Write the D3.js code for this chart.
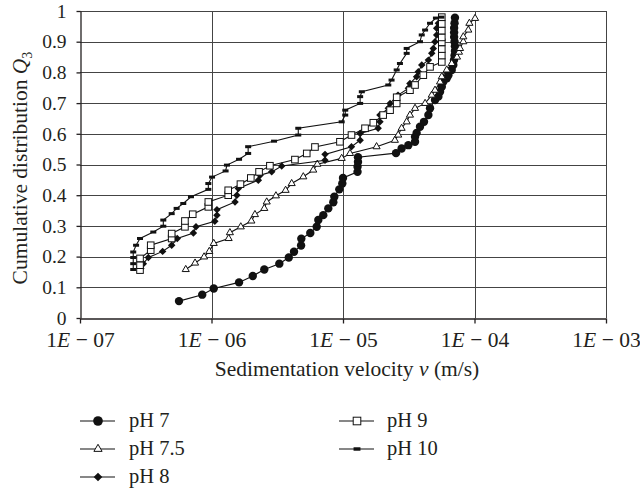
<!DOCTYPE html>
<html>
<head>
<meta charset="utf-8">
<script src="https://cdn.jsdelivr.net/npm/d3@7"></script>
<style>
    body { margin: 0; background: #fff; }
    text { font-family: "Liberation Serif", "DejaVu Serif", serif; fill: #231f20; }
</style>
</head>
<body>
<svg width="640" height="488"></svg>
<script>
// tick values
var xTicks = [1e-7, 1e-6, 1e-5, 1e-4, 1e-3];
var yTicks = [0, 0.1, 0.2, 0.3, 0.4, 0.5, 0.6, 0.7, 0.8, 0.9, 1];

// series: [velocity (m/s), Q3]
var ph7 = [[5.66e-7, 0.055], [8.5e-7, 0.076], [1.04e-6, 0.096], [1.62e-6, 0.116], [2.06e-6, 0.137],
    [2.52e-6, 0.158], [3.28e-6, 0.177], [3.87e-6, 0.197], [4.24e-6, 0.216], [4.8e-6, 0.236],
    [4.82e-6, 0.258], [5.64e-6, 0.277], [6.31e-6, 0.297], [6.49e-6, 0.319], [7.08e-6, 0.335],
    [7.73e-6, 0.357], [8.44e-6, 0.377], [8.59e-6, 0.395], [9.37e-6, 0.419], [9.88e-6, 0.438],
    [1.0e-5, 0.456], [1.29e-5, 0.476], [1.29e-5, 0.493], [1.3e-5, 0.508], [1.3e-5, 0.524],
    [2.53e-5, 0.537], [2.79e-5, 0.552], [3.14e-5, 0.563], [3.53e-5, 0.574], [3.53e-5, 0.59],
    [3.63e-5, 0.603], [3.85e-5, 0.623], [4.13e-5, 0.639], [4.46e-5, 0.661], [4.59e-5, 0.683],
    [5.01e-5, 0.71], [5.31e-5, 0.721], [5.47e-5, 0.737], [5.64e-5, 0.753], [5.8e-5, 0.77],
    [6.15e-5, 0.781], [6.33e-5, 0.791], [6.71e-5, 0.808], [6.9e-5, 0.824], [6.98e-5, 0.84],
    [7.05e-5, 0.855], [7.1e-5, 0.87], [7.1e-5, 0.885], [7.05e-5, 0.9], [7.0e-5, 0.915],
    [7.0e-5, 0.93], [7.0e-5, 0.945], [7.05e-5, 0.96], [7.1e-5, 0.978]];

var ph75 = [[6.37e-7, 0.158], [7.5e-7, 0.179], [8.78e-7, 0.199], [9.62e-7, 0.217], [1.04e-6, 0.243],
    [1.35e-6, 0.259], [1.38e-6, 0.278], [1.67e-6, 0.297], [2.01e-6, 0.316], [2.14e-6, 0.337],
    [2.52e-6, 0.357], [2.63e-6, 0.378], [3.09e-6, 0.398], [3.66e-6, 0.416], [4.07e-6, 0.438],
    [4.99e-6, 0.46], [5.94e-6, 0.482], [6.38e-6, 0.501], [9.77e-6, 0.52], [1.13e-5, 0.536],
    [1.8e-5, 0.558], [2.48e-5, 0.579], [2.63e-5, 0.596], [2.79e-5, 0.618], [3.05e-5, 0.639],
    [3.23e-5, 0.661], [3.53e-5, 0.683], [4.21e-5, 0.699], [4.73e-5, 0.726], [5.01e-5, 0.742],
    [5.47e-5, 0.769], [5.64e-5, 0.786], [6.15e-5, 0.808], [6.71e-5, 0.829], [7.36e-5, 0.85],
    [7.62e-5, 0.866], [7.76e-5, 0.878], [8.22e-5, 0.9], [8.22e-5, 0.916], [8.97e-5, 0.938],
    [9.14e-5, 0.96], [1.01e-4, 0.976]];

var ph8 = [[2.9e-7, 0.161], [3.03e-7, 0.177], [3.31e-7, 0.197], [4.25e-7, 0.217], [4.98e-7, 0.237],
    [5.49e-7, 0.259], [7.28e-7, 0.277], [7.62e-7, 0.297], [1.06e-6, 0.315], [1.1e-6, 0.335],
    [1.1e-6, 0.353], [1.51e-6, 0.378], [1.56e-6, 0.4], [1.6e-6, 0.422], [2.27e-6, 0.449],
    [2.34e-6, 0.465], [2.87e-6, 0.476], [3.42e-6, 0.495], [7.3e-6, 0.514], [7.3e-6, 0.533],
    [1.16e-5, 0.558], [1.35e-5, 0.579], [1.35e-5, 0.601], [1.85e-5, 0.618], [1.91e-5, 0.639],
    [1.91e-5, 0.661], [2.21e-5, 0.683], [2.28e-5, 0.699], [2.62e-5, 0.726], [3.14e-5, 0.748],
    [3.23e-5, 0.764], [3.63e-5, 0.786], [3.74e-5, 0.802], [3.97e-5, 0.824], [4.46e-5, 0.84],
    [4.73e-5, 0.862], [4.86e-5, 0.878], [5.01e-5, 0.9], [5.16e-5, 0.922], [5.16e-5, 0.944],
    [5.31e-5, 0.96], [5.56e-5, 0.977]];

var ph9 = [[2.86e-7, 0.156], [2.86e-7, 0.172], [2.86e-7, 0.194], [3.45e-7, 0.221], [3.45e-7, 0.237],
    [4.98e-7, 0.259], [4.98e-7, 0.275], [6.28e-7, 0.297], [6.28e-7, 0.316], [7.2e-7, 0.338],
    [9.46e-7, 0.362], [9.46e-7, 0.378], [1.34e-6, 0.4], [1.34e-6, 0.416], [1.66e-6, 0.436],
    [1.99e-6, 0.456], [2.3e-6, 0.476], [2.78e-6, 0.496], [4.31e-6, 0.516], [5.3e-6, 0.536],
    [6.12e-6, 0.557], [9.48e-6, 0.574], [1.16e-5, 0.596], [1.47e-5, 0.618], [1.7e-5, 0.636],
    [2.02e-5, 0.661], [2.28e-5, 0.677], [2.56e-5, 0.699], [2.56e-5, 0.719], [3.23e-5, 0.742],
    [3.53e-5, 0.759], [4.08e-5, 0.791], [4.59e-5, 0.818], [5.64e-5, 0.834], [5.64e-5, 0.855],
    [5.64e-5, 0.876], [5.64e-5, 0.898], [5.64e-5, 0.914], [5.64e-5, 0.936], [5.64e-5, 0.958],
    [5.64e-5, 0.98]];

var ph10 = [[2.54e-7, 0.158], [2.54e-7, 0.177], [2.54e-7, 0.197], [2.54e-7, 0.215], [2.67e-7, 0.237],
    [2.86e-7, 0.259], [3.61e-7, 0.28], [4.3e-7, 0.299], [4.3e-7, 0.319], [4.98e-7, 0.34],
    [5.43e-7, 0.357], [6.1e-7, 0.373], [6.98e-7, 0.395], [9.46e-7, 0.419], [9.46e-7, 0.438],
    [1.01e-6, 0.459], [1.28e-6, 0.479], [1.31e-6, 0.498], [1.62e-6, 0.517], [1.9e-6, 0.536],
    [1.9e-6, 0.558], [2.99e-6, 0.576], [4.57e-6, 0.596], [4.57e-6, 0.618], [9.77e-6, 0.639],
    [1.04e-5, 0.661], [1.04e-5, 0.677], [1.35e-5, 0.699], [1.35e-5, 0.721], [1.39e-5, 0.737],
    [2.21e-5, 0.759], [2.34e-5, 0.775], [2.56e-5, 0.808], [2.71e-5, 0.829], [3.05e-5, 0.862],
    [3.05e-5, 0.878], [3.85e-5, 0.9], [3.97e-5, 0.922], [4.21e-5, 0.938], [4.59e-5, 0.96],
    [5.09e-5, 0.977], [5.6e-5, 0.98]];

var seriesNames = ["pH 7", "pH 7.5", "pH 8", "pH 9", "pH 10"];
var seriesData = [ph7, ph75, ph8, ph9, ph10];
var seriesMarks = ["circle", "triangle", "diamond", "square", "bar"];

main();

function main() {
    var svg = d3.select("svg");
    var mLeft = 80, mRight = 606, mTop = 11, mBottom = 318;

    var x = d3.scaleLog().domain([1e-7, 1e-3]).range([mLeft, mRight]);
    var y = d3.scaleLinear().domain([0, 1]).range([mBottom, mTop]);

    // grid
    var grid = svg.append("g").attr("stroke", "#444").attr("stroke-width", 1);
    grid.selectAll(".h")
        .data(yTicks.slice(1))
        .join("line")
        .attr("x1", mLeft).attr("x2", mRight)
        .attr("y1", (d) => Math.round(y(d)) + 0.5)
        .attr("y2", (d) => Math.round(y(d)) + 0.5);
    grid.selectAll(".v")
        .data(xTicks.slice(1))
        .join("line")
        .attr("x1", (d) => Math.round(x(d)) + 0.5)
        .attr("x2", (d) => Math.round(x(d)) + 0.5)
        .attr("y1", mTop).attr("y2", mBottom);

    // axes
    var xAxis = svg.append("g")
        .attr("transform", "translate(0," + (mBottom + 0.5) + ")")
        .call(d3.axisBottom(x).tickValues(xTicks).tickSize(5).tickSizeOuter(0).tickPadding(8));
    xAxis.selectAll(".tick text").each(function (d) {
        var t = d3.select(this).text(null);
        var e = Math.round(-Math.log10(d));
        t.append("tspan").text("1");
        t.append("tspan").attr("font-style", "italic").text("E");
        t.append("tspan").text(" \u2212 " + (e < 10 ? "0" + e : e));
    });
    xAxis.selectAll(".tick text").attr("font-size", 21.5);

    var yAxis = svg.append("g")
        .attr("transform", "translate(" + (mLeft + 0.5) + ",0)")
        .call(d3.axisLeft(y).tickValues(yTicks).tickSize(4).tickSizeOuter(0).tickPadding(10)
            .tickFormat((d) => (d === 0 || d === 1) ? String(d) : d.toFixed(1)));
    yAxis.selectAll(".tick text").attr("font-size", 19.5);

    svg.selectAll(".tick text").attr("font-family", null).attr("fill", "#231f20");
    svg.selectAll(".domain, .tick line").attr("stroke", "#231f20").attr("stroke-width", 1.3);

    // axis titles
    svg.append("text")
        .attr("x", (mLeft + mRight) / 2 + 4).attr("y", 376)
        .attr("text-anchor", "middle").attr("font-size", 21.5)
        .call((t) => {
            t.append("tspan").text("Sedimentation velocity ");
            t.append("tspan").attr("font-style", "italic").text("\u03bd");
            t.append("tspan").text(" (m/s)");
        });

    svg.append("text")
        .attr("transform", "translate(27,168) rotate(-90)")
        .attr("text-anchor", "middle").attr("font-size", 21.5)
        .call((t) => {
            t.append("tspan").text("Cumulative distribution ");
            t.append("tspan").attr("font-style", "italic").text("Q");
            t.append("tspan").attr("font-size", 14).attr("dy", 5).text("3");
        });

    // markers
    function marker(sel, type, big) {
        var k = big ? 1.15 : 1;
        if (type === "circle") {
            sel.append("circle").attr("r", 4.2 * k).attr("fill", "#111");
        } else if (type === "triangle") {
            sel.append("path")
                .attr("d", d3.symbol().type(d3.symbolTriangle).size(22 * k * k))
                .attr("fill", "#fff").attr("stroke", "#111").attr("stroke-width", 1);
        } else if (type === "diamond") {
            sel.append("path")
                .attr("d", d3.symbol().type(d3.symbolSquare).size(28 * k * k))
                .attr("transform", "rotate(45)")
                .attr("fill", "#111");
        } else if (type === "square") {
            sel.append("rect")
                .attr("x", -3.3 * k).attr("y", -3.3 * k)
                .attr("width", 6.6 * k).attr("height", 6.6 * k)
                .attr("fill", "#fff").attr("stroke", "#111").attr("stroke-width", 1);
        } else {
            sel.append("rect")
                .attr("x", -3 * k).attr("y", -1.5 * k)
                .attr("width", 6 * k).attr("height", 3 * k)
                .attr("fill", "#111");
        }
    }

    var line = d3.line().x((d) => x(d[0])).y((d) => y(d[1]));

    seriesData.forEach(function (data, i) {
        var g = svg.append("g");
        g.append("path")
            .datum(data)
            .attr("d", line)
            .attr("fill", "none")
            .attr("stroke", "#111")
            .attr("stroke-width", 1.1);
        g.selectAll("g")
            .data(data)
            .join("g")
            .attr("transform", (d) => "translate(" + x(d[0]) + "," + y(d[1]) + ")")
            .each(function () { marker(d3.select(this), seriesMarks[i], false); });
    });

    // legend
    var legendCols = [[80, 98, 129], [339, 357, 387]];
    var legendRows = [421, 449, 477];
    seriesNames.forEach(function (name, i) {
        var col = legendCols[i < 3 ? 0 : 1];
        var ry = legendRows[i < 3 ? i : i - 3];
        var g = svg.append("g");
        g.append("line")
            .attr("x1", col[0]).attr("x2", col[0] + 35)
            .attr("y1", ry).attr("y2", ry)
            .attr("stroke", "#111").attr("stroke-width", 1.2);
        marker(g.append("g").attr("transform", "translate(" + col[1] + "," + ry + ")"), seriesMarks[i], true);
        g.append("text")
            .attr("x", col[2]).attr("y", ry + 6)
            .attr("font-size", 20.5)
            .text(name);
    });
}
</script>
</body>
</html>
